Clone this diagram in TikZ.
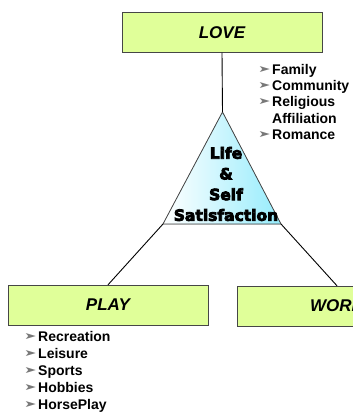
\documentclass[tikz,border=0pt]{standalone}
\usepackage{fontspec}
\usepackage{xcolor}
\usepackage{tikz}
\usetikzlibrary{positioning}
\setmainfont{Liberation Sans}
\newfontfamily\heavyfont{DejaVu Sans}[BoldFeatures={FakeBold=5}]
\newfontfamily\arrowfont{DejaVu Sans}
\definecolor{boxlime}{RGB}{224,255,153}
\definecolor{boxline}{RGB}{70,70,70}
\definecolor{tricyan}{RGB}{150,236,252}
\definecolor{bulletgray}{RGB}{120,120,120}
\newcommand{\itm}{\makebox[14pt][l]{\color{bulletgray}\raisebox{2.3pt}{\resizebox{12.5pt}{6pt}{\arrowfont ➤}}}}

\begin{document}
\begin{tikzpicture}[x=1pt, y=-1pt,
  box/.style={draw=boxline, fill=boxlime, minimum width=200pt, minimum height=40pt,
              inner sep=0pt, font=\fontsize{17}{20}\selectfont\bfseries\itshape},
  items/.style={anchor=north west, inner sep=0pt, align=left,
                font=\fontsize{14}{16.3}\selectfont\bfseries},
  conn/.style={draw, line width=0.9pt}]
\useasboundingbox (0,0) rectangle (353,420);
\clip (0,0) rectangle (353,420);
\node[box] (love) at (222,32.5) {LOVE};
\node[box] (play) at (108,305) {PLAY};
\node[box] (work) at (337,306) {WORK};
% triangle
\coordinate (apex) at (222.5,112);
\coordinate (lc) at (163,224);
\coordinate (rc) at (281,224);
\fill[left color=white, right color=tricyan] (apex) -- (lc) -- (rc) -- cycle;
\draw[boxline, line width=0.8pt] (apex) -- (lc) -- (rc) -- cycle;
\node[align=center, inner sep=0pt, font=\fontsize{15.5}{20.7}\selectfont\heavyfont\bfseries] (life) at (226,184)
  {Life\\\&\\Self\\Satisfaction};
% connectors
\draw[conn] (love.south) -- (apex);
\draw[conn] (lc) -- (play.north);
\draw[conn] (rc) -- (work.north);
% lists
\node[items] (lovelist) at (258,64)
  {\itm Family\\ \itm Community\\ \itm Religious\\ \hspace*{14pt}Affiliation\\ \itm Romance};
\node[items, font=\fontsize{14}{17}\selectfont\bfseries] (playlist) at (24,331)
  {\itm Recreation\\ \itm Leisure\\ \itm Sports\\ \itm Hobbies\\ \itm HorsePlay};
\end{tikzpicture}
\end{document}
